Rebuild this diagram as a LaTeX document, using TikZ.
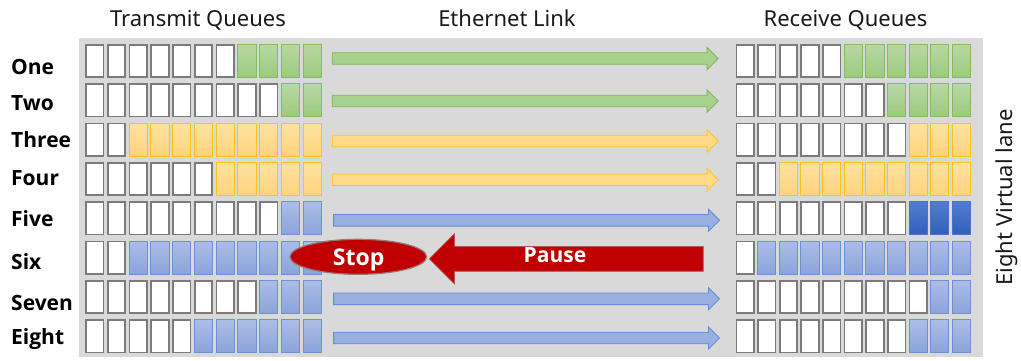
\documentclass[tikz,border=0pt]{standalone}
\usepackage{fontspec}
\setmainfont{Noto Sans}
\newfontfamily\labfont{Open Sans}
\usetikzlibrary{shapes.arrows,shapes.geometric}
\definecolor{bg}{RGB}{217,217,217}
\definecolor{wbord}{RGB}{125,122,122}
\definecolor{gtop}{RGB}{184,216,164}
\definecolor{gbot}{RGB}{156,201,128}
\definecolor{gbord}{RGB}{130,188,96}
\definecolor{ytop}{RGB}{255,226,160}
\definecolor{ybot}{RGB}{255,211,125}
\definecolor{ybord}{RGB}{255,195,20}
\definecolor{btop}{RGB}{172,189,230}
\definecolor{bbot}{RGB}{138,163,218}
\definecolor{bbord}{RGB}{110,145,212}
\definecolor{dtop}{RGB}{84,124,204}
\definecolor{dbot}{RGB}{48,96,188}
\definecolor{dbord}{RGB}{75,115,196}
\definecolor{garrow}{RGB}{169,209,142}
\definecolor{garrowb}{RGB}{125,185,88}
\definecolor{yarrow}{RGB}{255,217,135}
\definecolor{yarrowb}{RGB}{255,196,30}
\definecolor{barrow}{RGB}{152,175,224}
\definecolor{barrowb}{RGB}{100,138,212}
\definecolor{stopred}{RGB}{192,0,0}
\definecolor{titletxt}{RGB}{25,25,25}
\tikzset{
  qbox/.style={minimum width=17.6, minimum height=32.6, inner sep=0, outer sep=0},
  wbox/.style={qbox, fill=white, draw=wbord, line width=1.7},
  cbox/.style={qbox, minimum width=18.2, minimum height=33.2, line width=1.0},
  gbox/.style={cbox, top color=gtop, bottom color=gbot, draw=gbord},
  ybox/.style={cbox, top color=ytop, bottom color=ybot, draw=ybord},
  bbox/.style={cbox, top color=btop, bottom color=bbot, draw=bbord},
  dbox/.style={cbox, top color=dtop, bottom color=dbot, draw=dbord},
  linkarrow/.style={single arrow, anchor=tail, minimum height=386, inner xsep=0, inner ysep=5.4,
    single arrow head extend=5.3, outer sep=0, line width=0.8},
  garr/.style={linkarrow, fill=garrow, draw=garrowb},
  yarr/.style={linkarrow, fill=yarrow, draw=yarrowb},
  barr/.style={linkarrow, fill=barrow, draw=barrowb},
  title/.style={font=\fontsize{22}{26}\selectfont, text=titletxt, anchor=base, inner sep=0},
  rowlab/.style={font=\labfont\bfseries\fontsize{21}{25}\selectfont, text=black, anchor=base west, inner sep=0},
  redtxt/.style={font=\labfont\bfseries\fontsize{21}{25}\selectfont, text=white, anchor=base, inner sep=0}
}
\begin{document}
\begin{tikzpicture}[x=1pt,y=-1pt]
\useasboundingbox (0,0) rectangle (1021,360);
\fill[bg] (79,38) rectangle (983,357);

% titles
\node[title] (ttx) at (198,26) {Transmit Queues};
\node[title] (tlink) at (507,26) {Ethernet Link};
\node[title] (trx) at (845.5,26) {Receive Queues};
\node[font=\fontsize{22}{26}\selectfont, text=titletxt, rotate=90, inner sep=0] (tlane) at (1007,197.5) {Eight Virtual lane};

% row labels
\node[rowlab] (l1) at (11,74) {One};
\node[rowlab] (l2) at (11,110) {Two};
\node[rowlab] (l3) at (11,147.3) {Three};
\node[rowlab] (l4) at (11,185) {Four};
\node[rowlab] (l5) at (11,226.7) {Five};
\node[rowlab] (l6) at (11,269.3) {Six};
\node[rowlab] (l7) at (11,310) {Seven};
\node[rowlab] (l8) at (11,344.3) {Eight};

% queues
\foreach \r/\nt/\kt/\nr/\kr in {0/7/g/5/g, 1/9/g/7/g, 2/2/y/8/y, 3/6/y/2/y, 4/9/b/8/d, 5/2/b/1/b, 6/8/b/9/b, 7/5/b/8/b}{
  \foreach \c in {0,...,10}{
    \ifnum\c<\nt \def\stya{wbox}\else \def\stya{\kt box}\fi
    \ifnum\c<\nr \def\styb{wbox}\else \def\styb{\kr box}\fi
    \node[\stya] (t\r-\c) at ({94.8+21.74*\c},{61+39.33*\r}) {};
    \node[\styb] (q\r-\c) at ({745.2+21.63*\c},{61+39.33*\r}) {};
  }
}

% link arrows
\node[garr] (a0) at (332.2,58.5) {};
\node[garr] (a1) at (332.2,101) {};
\node[yarr] (a2) at (332.2,141) {};
\node[yarr] (a3) at (332.2,179.7) {};
\node[barr] (a4) at (333.6,220.3) {};
\node[barr] (a6) at (333.6,298.8) {};
\node[barr] (a7) at (333.6,338) {};

% pause arrow and stop
\node[single arrow, shape border rotate=180, anchor=tail, minimum height=274, inner xsep=0, inner ysep=12.1,
  single arrow head extend=12.85, outer sep=0, fill=stopred,
  draw={rgb,255:red,175;green,90;blue,90}, line width=0.7] (pause) at (703.3,258.8) {};
\node[redtxt] (pausetxt) at (555,262.7) {Pause};
\node[ellipse, minimum width=136.7, minimum height=35, inner sep=0, fill=stopred,
  draw={rgb,255:red,150;green,120;blue,120}, line width=1.2] (stop) at (358.3,256.8) {};
\node[redtxt, font=\labfont\bfseries\fontsize{23}{27}\selectfont] (stoptxt) at (358.7,265.3) {Stop};
\end{tikzpicture}
\end{document}
